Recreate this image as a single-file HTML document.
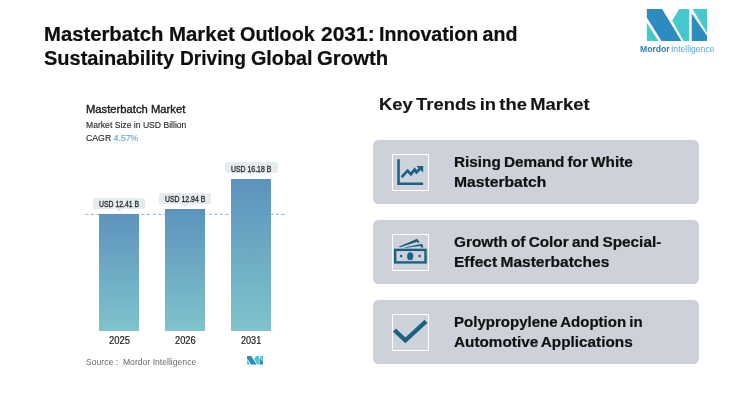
<!DOCTYPE html>
<html lang="en">
<head>
<meta charset="utf-8">
<title>Masterbatch Market Outlook 2031</title>
<style>
html,body{margin:0;padding:0;}
body{width:750px;height:404px;background:#fff;position:relative;overflow:hidden;font-family:"Liberation Sans",sans-serif;color:#111;}
h1,h2,h3,p,ul,li,figure,figcaption{margin:0;padding:0;font-size:inherit;font-weight:inherit;list-style:none;}
.abs{position:absolute;}
.t{position:absolute;display:block;white-space:nowrap;transform-origin:0 0;font-family:"Liberation Sans",sans-serif;}
.card{position:absolute;left:373px;width:326px;height:64px;background:#cdd2da;border-radius:5.5px;}
.ibox{position:absolute;left:19px;top:14px;width:35px;height:35px;border:1px solid #fff;background:#ced3db;}
.ibox svg{position:absolute;left:-1px;top:-1px;}
.bar{position:absolute;background:linear-gradient(#5d93bc,#7fc3cc);}
.lbl{position:absolute;height:11.2px;background:#e5ecf0;border-radius:2.5px;}
.lbl:after{content:"";position:absolute;left:50%;bottom:-3px;margin-left:-3px;border-left:3px solid transparent;border-right:3px solid transparent;border-top:3px solid #e5ecf0;}
.dash{position:absolute;left:85.5px;top:213.6px;width:200px;height:1px;background:repeating-linear-gradient(90deg,#8fb6cf 0,#8fb6cf 3.1px,transparent 3.1px,transparent 5.6px);}
</style>
</head>
<body>

<header>
  <h1>
    <span class="t" style="left:44.27px;top:22.80px;font-size:19.6px;line-height:23.52px;font-weight:bold;color:#0e0e0e;transform:scaleX(1.0345);-webkit-text-stroke:0.2px #0e0e0e;">Masterbatch</span> <span class="t" style="left:168.96px;top:22.80px;font-size:19.6px;line-height:23.52px;font-weight:bold;color:#0e0e0e;transform:scaleX(1.0419);-webkit-text-stroke:0.2px #0e0e0e;">Market</span> <span class="t" style="left:239.99px;top:22.80px;font-size:19.6px;line-height:23.52px;font-weight:bold;color:#0e0e0e;transform:scaleX(1.0110);-webkit-text-stroke:0.2px #0e0e0e;">Outlook</span> <span class="t" style="left:321.00px;top:22.80px;font-size:19.6px;line-height:23.52px;font-weight:bold;color:#0e0e0e;transform:scaleX(1.0708);-webkit-text-stroke:0.2px #0e0e0e;">2031:</span> <span class="t" style="left:378.50px;top:22.80px;font-size:19.6px;line-height:23.52px;font-weight:bold;color:#0e0e0e;transform:scaleX(1.0010);-webkit-text-stroke:0.2px #0e0e0e;">Innovation</span> <span class="t" style="left:482.60px;top:22.80px;font-size:19.6px;line-height:23.52px;font-weight:bold;color:#0e0e0e;transform:scaleX(1.0000);-webkit-text-stroke:0.2px #0e0e0e;">and</span>
    <span class="t" style="left:44.28px;top:46.80px;font-size:19.6px;line-height:23.52px;font-weight:bold;color:#0e0e0e;transform:scaleX(1.0214);-webkit-text-stroke:0.2px #0e0e0e;">Sustainability</span> <span class="t" style="left:179.52px;top:46.80px;font-size:19.6px;line-height:23.52px;font-weight:bold;color:#0e0e0e;transform:scaleX(0.9769);-webkit-text-stroke:0.2px #0e0e0e;">Driving</span> <span class="t" style="left:250.99px;top:46.80px;font-size:19.6px;line-height:23.52px;font-weight:bold;color:#0e0e0e;transform:scaleX(1.0068);-webkit-text-stroke:0.2px #0e0e0e;">Global</span> <span class="t" style="left:316.96px;top:46.80px;font-size:19.6px;line-height:23.52px;font-weight:bold;color:#0e0e0e;transform:scaleX(1.0379);-webkit-text-stroke:0.2px #0e0e0e;">Growth</span>
  </h1>
  <div class="brand">
    <svg class="abs" style="left:640px;top:0" width="80" height="45" viewBox="640 0 80 45">
    <polygon points="646.8,8.9 662.1,8.9 681.4,41 661.5,41 646.8,17.4" fill="#2e8bc0"/>
    <polygon points="646.8,22.8 646.8,41 658.4,41" fill="#47c8cd"/>
    <polygon points="679.2,8.9 689.1,8.9 689.1,41 683.6,41 672.2,20.5" fill="#47c8cd"/>
    <polygon points="691.7,13.5 691.7,41 707,41 707,35.7" fill="#2e8bc0"/>
    <polygon points="692.4,8.9 707,8.9 707,32.9" fill="#47c8cd"/>
    </svg>
    <span class="t" style="left:639.87px;top:43.90px;font-size:8.4px;line-height:10.08px;font-weight:normal;color:#2b7db3;transform:scaleX(1.0268);word-spacing:-1px;"><b style="color:#2b7db3">Mordor</b> <span style="color:#56a6cb">Intelligence</span></span>
  </div>
</header>

<figure class="chart">
  <figcaption>
    <h3><span class="t" style="left:85.94px;top:102.90px;font-size:10.6px;line-height:12.72px;font-weight:normal;color:#1a1a1a;transform:scaleX(1.0613);-webkit-text-stroke:0.35px #1a1a1a;">Masterbatch Market</span></h3>
    <p><span class="t" style="left:85.67px;top:119.80px;font-size:9.3px;line-height:11.16px;font-weight:normal;color:#2c2c2c;transform:scaleX(0.9252);-webkit-text-stroke:0.15px #2c2c2c;">Market Size in USD Billion</span></p>
    <p><span class="t" style="left:85.90px;top:132.90px;font-size:9.3px;line-height:11.16px;font-weight:normal;color:#2c2c2c;transform:scaleX(0.9375);-webkit-text-stroke:0.15px;">CAGR <span style="color:#6aa5ca">4.57%</span></span></p>
  </figcaption>
  <div class="plot">
    <svg class="abs" style="left:85px;top:210px" width="202" height="8" viewBox="85 210 202 8"><line x1="85.4" y1="214.35" x2="285.6" y2="214.35" stroke="#8ab3cd" stroke-width="1" stroke-dasharray="3.1 2.5"/></svg>
    <div class="bar" style="left:99.1px;top:214.4px;width:39.6px;height:116.8px;"></div>
    <div class="bar" style="left:165.1px;top:209.2px;width:39.6px;height:122px;"></div>
    <div class="bar" style="left:231.1px;top:178.5px;width:39.7px;height:152.7px;"></div>
    <div class="lbl" style="left:93px;top:198.1px;width:52px;"></div>
    <div class="lbl" style="left:158.8px;top:192.8px;width:52.3px;"></div>
    <div class="lbl" style="left:224.9px;top:162.2px;width:53px;"></div>
    <span class="t" style="left:98.90px;top:199.80px;font-size:8.2px;line-height:9.84px;font-weight:normal;color:#2a2a2a;transform:scaleX(0.8375);-webkit-text-stroke:0.3px #2a2a2a;">USD 12.41 B</span>
    <span class="t" style="left:164.90px;top:194.80px;font-size:8.2px;line-height:9.84px;font-weight:normal;color:#2a2a2a;transform:scaleX(0.8438);-webkit-text-stroke:0.3px #2a2a2a;">USD 12.94 B</span>
    <span class="t" style="left:231.20px;top:164.70px;font-size:8.2px;line-height:9.84px;font-weight:normal;color:#2a2a2a;transform:scaleX(0.8438);-webkit-text-stroke:0.3px #2a2a2a;">USD 16.18 B</span>
    <span class="t" style="left:108.50px;top:334.70px;font-size:10px;line-height:12.00px;font-weight:normal;color:#222;transform:scaleX(0.9455);-webkit-text-stroke:0.2px #222;">2025</span>
    <span class="t" style="left:174.70px;top:334.70px;font-size:10px;line-height:12.00px;font-weight:normal;color:#222;transform:scaleX(0.9318);-webkit-text-stroke:0.2px #222;">2026</span>
    <span class="t" style="left:240.80px;top:334.70px;font-size:10px;line-height:12.00px;font-weight:normal;color:#222;transform:scaleX(0.9091);-webkit-text-stroke:0.2px #222;">2031</span>
  </div>
  <div class="source">
    <span class="t" style="left:86.24px;top:356.50px;font-size:9px;line-height:10.80px;font-weight:normal;color:#6b6b6b;transform:scaleX(0.9584);">Source :&nbsp; Mordor Intelligence</span>
    <svg class="abs" style="left:246.5px;top:356px" width="16.8" height="8.6" viewBox="646.8 8.9 60.2 32.1" preserveAspectRatio="none">
    <polygon points="646.8,8.9 662.1,8.9 681.4,41 661.5,41 646.8,17.4" fill="#2e8bc0"/>
    <polygon points="646.8,22.8 646.8,41 658.4,41" fill="#47c8cd"/>
    <polygon points="679.2,8.9 689.1,8.9 689.1,41 683.6,41 672.2,20.5" fill="#47c8cd"/>
    <polygon points="691.7,13.5 691.7,41 707,41 707,35.7" fill="#2e8bc0"/>
    <polygon points="692.4,8.9 707,8.9 707,32.9" fill="#47c8cd"/>
    </svg>
  </div>
</figure>

<section class="trends">
  <h2><span class="t" style="left:379.49px;top:95.20px;font-size:16.6px;line-height:19.92px;font-weight:bold;color:#151515;transform:scaleX(1.1079);word-spacing:-1.6px;-webkit-text-stroke:0.15px #151515;">Key Trends in the Market</span></h2>
  <ul>
    <li>
      <div class="card" style="top:140px;">
        <div class="ibox"><svg width="37" height="37" viewBox="392 154 37 37">
          <path d="M397.3 159.3 h2.5 v23.1 h23.3 v2.5 h-25.8 z" fill="#1a6185"/>
          <polyline points="401.6,177.2 407.6,170.7 410.9,174.2 414.7,169.6 416.5,172.3 420.7,168" fill="none" stroke="#1a6185" stroke-width="2.7"/>
          <polygon points="416.4,165.9 423.2,165.9 423.2,172.4" fill="#1a6185"/>
        </svg></div>
        <p><span class="t" style="left:80.74px;top:14.10px;font-size:14.4px;line-height:17.28px;font-weight:bold;color:#111;transform:scaleX(1.0635);word-spacing:-1px;-webkit-text-stroke:0.2px #111;">Rising Demand for White</span>
           <span class="t" style="left:80.71px;top:33.90px;font-size:14.4px;line-height:17.28px;font-weight:bold;color:#111;transform:scaleX(1.0892);word-spacing:-1px;-webkit-text-stroke:0.2px #111;">Masterbatch</span></p>
      </div>
    </li>
    <li>
      <div class="card" style="top:220px;">
        <div class="ibox"><svg width="37" height="37" viewBox="392 234 37 37">
          <rect x="395.2" y="249.9" width="30.3" height="12.5" fill="none" stroke="#1a6185" stroke-width="2.4"/>
          <ellipse cx="410.2" cy="256.2" rx="3.1" ry="3.9" fill="#1a6185"/>
          <circle cx="401.1" cy="256.1" r="1.3" fill="#1a6185"/>
          <circle cx="419.6" cy="256.1" r="1.3" fill="#1a6185"/>
          <polygon points="398.6,246.8 417.1,238.8 419.5,241.9 418.6,242.9 416.6,241.9 400.5,247.3" fill="#1a6185"/>
          <polygon points="404,247.4 422.1,243.8 423.5,247.2 421.3,247.8 420.6,246 406,247.8" fill="#1a6185"/>
        </svg></div>
        <p><span class="t" style="left:80.80px;top:14.40px;font-size:14.4px;line-height:17.28px;font-weight:bold;color:#111;transform:scaleX(1.0670);word-spacing:-1px;-webkit-text-stroke:0.2px #111;">Growth of Color and Special-</span>
           <span class="t" style="left:80.52px;top:33.60px;font-size:14.4px;line-height:17.28px;font-weight:bold;color:#111;transform:scaleX(1.0803);word-spacing:-1px;-webkit-text-stroke:0.2px #111;">Effect Masterbatches</span></p>
      </div>
    </li>
    <li>
      <div class="card" style="top:300px;">
        <div class="ibox"><svg width="37" height="37" viewBox="392 314 37 37">
          <polyline points="394.5,330.1 405.4,340.3 426,321.4" fill="none" stroke="#1a6185" stroke-width="4.2"/>
        </svg></div>
        <p><span class="t" style="left:80.76px;top:14.30px;font-size:14.4px;line-height:17.28px;font-weight:bold;color:#111;transform:scaleX(1.0447);word-spacing:-1px;-webkit-text-stroke:0.2px #111;">Polypropylene Adoption in</span>
           <span class="t" style="left:80.90px;top:33.70px;font-size:14.4px;line-height:17.28px;font-weight:bold;color:#111;transform:scaleX(1.0637);word-spacing:-1px;-webkit-text-stroke:0.2px #111;">Automotive Applications</span></p>
      </div>
    </li>
  </ul>
</section>

</body>
</html>
